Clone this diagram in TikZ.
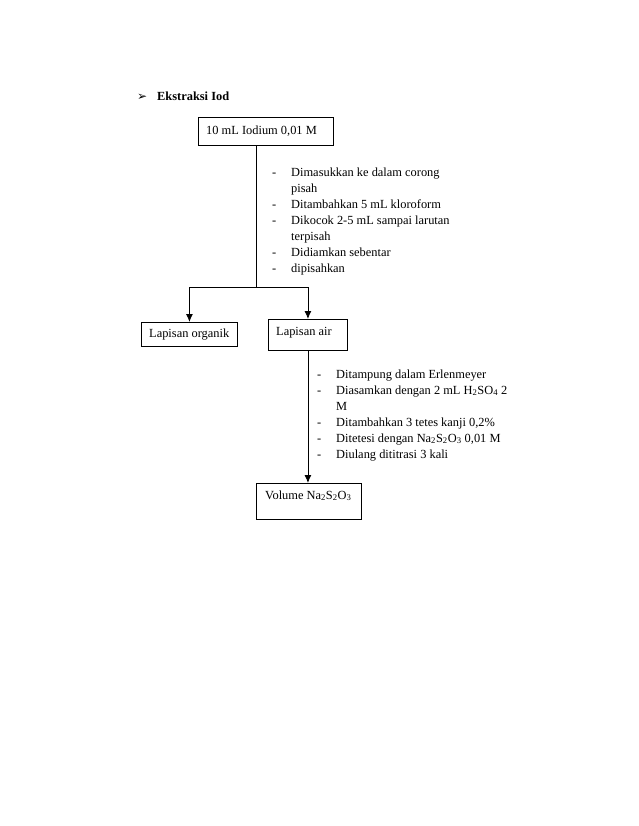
\documentclass[tikz,border=0pt]{standalone}
\usepackage{fontspec}
\setmainfont{Liberation Serif}
\newfontfamily\dejavu{DejaVu Sans}
\usetikzlibrary{arrows.meta}
\tikzset{
  box/.style={draw, line width=0.9pt, inner sep=0pt, anchor=north west},
  txt/.style={anchor=base west, inner sep=0pt, font=\fontsize{12.4}{16}\selectfont},
  conn/.style={line width=0.9pt},
  arr/.style={line width=0.9pt, -{Latex[length=8pt,width=7pt]}}
}
\begin{document}
\begin{tikzpicture}[x=1pt,y=1pt]
\path[use as bounding box] (0,0) rectangle (638,-826);
% header
\node[txt, font=\dejavu\fontsize{12}{14}\selectfont] (bul) at (137,-101) {➢};
\node[txt, font=\fontsize{12.4}{16}\selectfont\bfseries] (hd) at (157,-101) {Ekstraksi Iod};
% boxes
\node[box, minimum width=135, minimum height=28] (b1) at (198,-117) {};
\node[txt] (t1) at (206,-135) {10 mL Iodium 0,01 M};
\node[box, minimum width=96, minimum height=24] (lo) at (141,-322) {};
\node[txt] (t2) at (149,-337) {Lapisan organik};
\node[box, minimum width=79, minimum height=31] (la) at (268,-319) {};
\node[txt] (t3) at (276,-335) {Lapisan air};
\node[box, minimum width=105, minimum height=36] (vol) at (256,-483) {};
\node[txt] (t4) at (265,-499) {Volume Na\textsubscript{2}S\textsubscript{2}O\textsubscript{3}};
% list 1
\node[txt] (l1) at (272,-177) {\renewcommand\arraystretch{1}\begin{tabular}[t]{@{}p{19pt}@{}l@{}}
- & Dimasukkan ke dalam corong\\
  & pisah\\
- & Ditambahkan 5 mL kloroform\\
- & Dikocok 2-5 mL sampai larutan\\
  & terpisah\\
- & Didiamkan sebentar\\
- & dipisahkan
\end{tabular}};
% list 2
\node[txt] (l2) at (317,-378) {\renewcommand\arraystretch{1}\begin{tabular}[t]{@{}p{19pt}@{}l@{}}
- & Ditampung dalam Erlenmeyer\\
- & Diasamkan dengan 2 mL H\textsubscript{2}SO\textsubscript{4} 2\\
  & M\\
- & Ditambahkan 3 tetes kanji 0,2\%\\
- & Ditetesi dengan Na\textsubscript{2}S\textsubscript{2}O\textsubscript{3} 0,01 M\\
- & Diulang dititrasi 3 kali
\end{tabular}};
% connectors
\coordinate (j) at (256,-287);
\draw[conn] (j |- b1.south) -- (j);
\draw[arr] (j) -| (lo.north);
\draw[arr] (j) -| (la.north);
\draw[arr] (la.south) -- (la.south |- vol.north);
\end{tikzpicture}
\end{document}
